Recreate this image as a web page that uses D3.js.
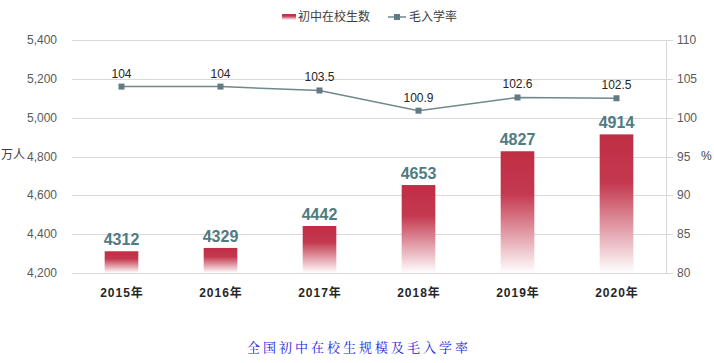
<!DOCTYPE html>
<html>
<head>
<meta charset="utf-8">
<script src="https://cdn.jsdelivr.net/npm/d3@7"></script>
<style>
  body { margin: 0; background: #fff; }
  svg text { font-family: Arial, "Liberation Sans", "Noto Sans CJK SC", sans-serif; }
</style>
</head>
<body>
<div id="chart"></div>
<script>
const years = ['2015年', '2016年', '2017年', '2018年', '2019年', '2020年']
const students = [4312, 4329, 4442, 4653, 4827, 4914]
const rates = [104, 104, 103.5, 100.9, 102.6, 102.5]
const leftTicks = [4200, 4400, 4600, 4800, 5000, 5200, 5400]
const rightTicks = [80, 85, 90, 95, 100, 105, 110]

const width = 714, height = 363
const margin = {left: 72, right: 48, top: 40, bottom: 90}

const svg = d3.select('#chart').append('svg')
  .attr('width', width)
  .attr('height', height)

const defs = svg.append('defs')
const grad = defs.append('linearGradient')
  .attr('id', 'barGrad')
  .attr('x1', 0).attr('y1', 0).attr('x2', 0).attr('y2', 1)
grad.append('stop').attr('offset', '0%').attr('stop-color', '#bf2e45')
grad.append('stop').attr('offset', '35%').attr('stop-color', '#c4394f')
grad.append('stop').attr('offset', '100%').attr('stop-color', '#ffffff')

const x = d3.scaleBand()
  .domain(years)
  .range([margin.left, width - margin.right])
  .paddingInner(0.66)
  .paddingOuter(0.33)

const y = d3.scaleLinear()
  .domain([4200, 5400])
  .range([height - margin.bottom, margin.top])

const y2 = d3.scaleLinear()
  .domain([80, 110])
  .range([height - margin.bottom, margin.top])

// gridlines
svg.append('g')
  .selectAll('line')
  .data(leftTicks)
  .join('line')
  .attr('x1', margin.left)
  .attr('x2', width - margin.right + 7)
  .attr('y1', d => Math.round(y(d)) + 0.5)
  .attr('y2', d => Math.round(y(d)) + 0.5)
  .attr('stroke', '#d9d9d9')

// right axis line
svg.append('line')
  .attr('x1', width - margin.right + 0.5)
  .attr('x2', width - margin.right + 0.5)
  .attr('y1', margin.top)
  .attr('y2', height - margin.bottom)
  .attr('stroke', '#d9d9d9')

// left labels
svg.append('g')
  .selectAll('text')
  .data(leftTicks)
  .join('text')
  .attr('x', 57)
  .attr('y', d => y(d) + 4)
  .attr('text-anchor', 'end')
  .attr('font-size', 12)
  .attr('fill', '#595959')
  .text(d => d3.format(',')(d))

// right labels
svg.append('g')
  .selectAll('text')
  .data(rightTicks)
  .join('text')
  .attr('x', 677)
  .attr('y', d => y2(d) + 4)
  .attr('font-size', 12)
  .attr('fill', '#595959')
  .text(d => d)

svg.append('text')
  .attr('x', 1).attr('y', 159)
  .attr('font-size', 12).attr('fill', '#404040')
  .text('万人')

svg.append('text')
  .attr('x', 701).attr('y', 160)
  .attr('font-size', 12).attr('fill', '#404040')
  .text('%')

// bars
svg.append('g')
  .selectAll('rect')
  .data(students)
  .join('rect')
  .attr('x', (d, i) => x(years[i]))
  .attr('y', d => y(d))
  .attr('width', x.bandwidth())
  .attr('height', d => y(4200) - y(d))
  .attr('fill', 'url(#barGrad)')

svg.append('g')
  .selectAll('text')
  .data(students)
  .join('text')
  .attr('x', (d, i) => x(years[i]) + x.bandwidth() / 2)
  .attr('y', d => y(d) - 6)
  .attr('text-anchor', 'middle')
  .attr('font-size', 16)
  .attr('font-weight', 'bold')
  .attr('fill', '#4f7b82')
  .text(d => d)

// line
const cx = i => x(years[i]) + x.bandwidth() / 2

svg.append('path')
  .datum(rates)
  .attr('d', d3.line().x((d, i) => cx(i)).y(d => y2(d)))
  .attr('fill', 'none')
  .attr('stroke', '#71888c')
  .attr('stroke-width', 1.5)

svg.append('g')
  .selectAll('rect')
  .data(rates)
  .join('rect')
  .attr('x', (d, i) => cx(i) - 3)
  .attr('y', d => y2(d) - 3)
  .attr('width', 6)
  .attr('height', 6)
  .attr('fill', '#627b80')

svg.append('g')
  .selectAll('text')
  .data(rates)
  .join('text')
  .attr('x', (d, i) => cx(i))
  .attr('y', d => y2(d) - 9)
  .attr('text-anchor', 'middle')
  .attr('font-size', 12)
  .attr('fill', '#262626')
  .text(d => d)

// x labels
svg.append('g')
  .selectAll('text')
  .data(years)
  .join('text')
  .attr('x', d => x(d) + x.bandwidth() / 2 + 0.5)
  .attr('y', 297)
  .attr('text-anchor', 'middle')
  .attr('font-size', 12)
  .attr('font-weight', 'bold')
  .attr('letter-spacing', 1)
  .attr('fill', '#262626')
  .text(d => d)

// legend
const legend = svg.append('g')
legend.append('rect')
  .attr('x', 282).attr('y', 14).attr('width', 14).attr('height', 6)
  .attr('fill', 'url(#barGrad)')
legend.append('text')
  .attr('x', 298).attr('y', 21)
  .attr('font-size', 12).attr('fill', '#404040')
  .text('初中在校生数')
legend.append('line')
  .attr('x1', 388).attr('x2', 406).attr('y1', 17).attr('y2', 17)
  .attr('stroke', '#71888c').attr('stroke-width', 1.5)
legend.append('rect')
  .attr('x', 394).attr('y', 14).attr('width', 6).attr('height', 6)
  .attr('fill', '#627b80')
legend.append('text')
  .attr('x', 409).attr('y', 21)
  .attr('font-size', 12).attr('fill', '#404040')
  .text('毛入学率')

// caption
svg.append('text')
  .attr('x', 359).attr('y', 352)
  .attr('text-anchor', 'middle')
  .attr('font-size', 13)
  .attr('fill', '#1c1ce0')
  .attr('letter-spacing', 3)
  .style('font-family', '"Noto Serif CJK SC", "Noto Sans CJK SC", serif')
  .text('全国初中在校生规模及毛入学率')
</script>
</body>
</html>
